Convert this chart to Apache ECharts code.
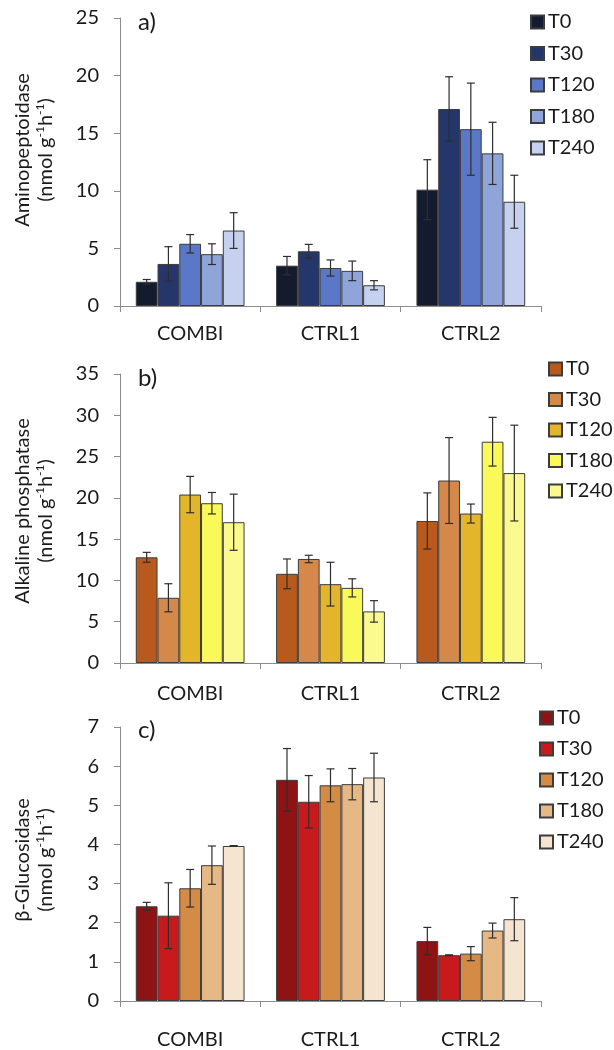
<!DOCTYPE html>
<html>
<head>
<meta charset="utf-8">
<script src="https://cdn.jsdelivr.net/npm/echarts@6/dist/echarts.min.js"></script>
<style>html,body{margin:0;padding:0;background:#fff;}#chart{width:614px;height:1050px;}</style>
</head>
<body>
<div id="chart"></div>
<script>
const categories = ['COMBI', 'CTRL1', 'CTRL2'];
const times = ['T0', 'T30', 'T120', 'T180', 'T240'];

// a) Aminopeptoidase: rows = times, columns = categories
const aminoMeans = [
  [2.1, 3.5, 10.1],
  [3.65, 4.75, 17.1],
  [5.4, 3.3, 15.35],
  [4.5, 3.05, 13.25],
  [6.55, 1.8, 9.05]
];
const aminoErr = [
  [0.2, 0.8, 2.6],
  [1.5, 0.6, 2.8],
  [0.8, 0.7, 4.0],
  [0.9, 0.85, 2.7],
  [1.55, 0.4, 2.3]
];
// b) Alkaline phosphatase
const alkMeans = [
  [12.8, 10.8, 17.2],
  [7.9, 12.6, 22.1],
  [20.4, 9.55, 18.1],
  [19.35, 9.1, 26.8],
  [17.05, 6.25, 23.0]
];
const alkErr = [
  [0.6, 1.8, 3.4],
  [1.7, 0.45, 5.2],
  [2.2, 2.65, 1.15],
  [1.3, 1.1, 2.95],
  [3.4, 1.3, 5.8]
];
// c) beta-Glucosidase
const gluMeans = [
  [2.42, 5.65, 1.53],
  [2.18, 5.09, 1.17],
  [2.88, 5.51, 1.21],
  [3.47, 5.54, 1.80],
  [3.96, 5.71, 2.09]
];
const gluErr = [
  [0.1, 0.8, 0.35],
  [0.84, 0.67, 0.01],
  [0.48, 0.42, 0.18],
  [0.49, 0.4, 0.19],
  [0.01, 0.62, 0.55]
];

const aminoColors = ['#151b2f', '#25366a', '#5b78c8', '#8fa5da', '#c5d1ee'];
const alkColors = ['#b85a1e', '#d4884a', '#e3b52a', '#f9f959', '#fbfa8f'];
const gluColors = ['#8e1315', '#c8191c', '#d48b45', '#e5b886', '#f4e4d0'];

const panels = [
  {key: 'a', means: aminoMeans, err: aminoErr, colors: aminoColors, max: 25, interval: 5,
   top: 18, height: 288, legendTop: 12, legendLeft: 530, legendGap: 29.5,
   label: 'a)', labelTop: 5, name1: 'Aminopeptoidase', nameY: 150, catMargin: 18},
  {key: 'b', means: alkMeans, err: alkErr, colors: alkColors, max: 35, interval: 5,
   top: 374, height: 289, legendTop: 359, legendLeft: 548, legendGap: 28.5,
   label: 'b)', labelTop: 361, name1: 'Alkaline phosphatase', nameY: 511, catMargin: 21},
  {key: 'c', means: gluMeans, err: gluErr, colors: gluColors, max: 7, interval: 1,
   top: 727, height: 280, legendTop: 708, legendLeft: 539, legendGap: 29,
   label: 'c)', labelTop: 713, name1: 'β-Glucosidase', nameY: 860, catMargin: 29}
];

const FONT = 'Lato';
const CAT_GAP = 0.225;

const grid = [], xAxis = [], yAxis = [], series = [], legend = [], title = [], graphic = [];

panels.forEach((p, pi) => {
  grid.push({left: 120, right: 73, top: p.top, height: p.height});
  xAxis.push({
    type: 'category', gridIndex: pi, data: categories,
    axisLine: {lineStyle: {color: '#8c8c8c', width: 1}},
    axisTick: {show: true, length: 6, lineStyle: {color: '#8c8c8c'}},
    axisLabel: {color: '#1a1a1a', fontFamily: FONT, fontSize: 20, margin: p.catMargin}
  });
  yAxis.push({
    type: 'value', gridIndex: pi, min: 0, max: p.max, interval: p.interval,
    splitLine: {show: false},
    axisLine: {show: true, lineStyle: {color: '#8c8c8c', width: 1}},
    axisTick: {show: true, length: 6, lineStyle: {color: '#8c8c8c'}},
    axisLabel: {color: '#1a1a1a', fontFamily: FONT, fontSize: 20, margin: 21}
  });
  const names = times.map(t => p.key + '|' + t);
  times.forEach((t, ti) => {
    series.push({
      name: p.key + '|' + t, type: 'bar', xAxisIndex: pi, yAxisIndex: pi,
      data: p.means[ti], barGap: '0%', barCategoryGap: (CAT_GAP * 100) + '%',
      itemStyle: {color: p.colors[ti], borderColor: '#3c3c3c', borderWidth: 1},
      emphasis: {disabled: true}, animation: false
    });
  });
  const errData = [];
  times.forEach((t, ti) => {
    categories.forEach((c, ci) => {
      errData.push([ci, ti, p.means[ti][ci] - p.err[ti][ci], p.means[ti][ci] + p.err[ti][ci]]);
    });
  });
  series.push({
    type: 'custom', xAxisIndex: pi, yAxisIndex: pi, data: errData, z: 10,
    encode: {x: 0, y: [2, 3]}, animation: false, silent: true,
    renderItem: function (params, api) {
      const ci = api.value(0), ti = api.value(1), lo = api.value(2), hi = api.value(3);
      const band = api.size([1, 0])[0];
      const bw = band * (1 - CAT_GAP) / times.length;
      const cx = api.coord([ci, 0])[0] + (ti - (times.length - 1) / 2) * bw;
      const yTop = api.coord([ci, hi])[1];
      const yBot = api.coord([ci, lo])[1];
      const cap = 4;
      const st = {stroke: '#2e2e2e', lineWidth: 1.2};
      return {type: 'group', children: [
        {type: 'line', shape: {x1: cx, y1: yTop, x2: cx, y2: yBot}, style: st},
        {type: 'line', shape: {x1: cx - cap, y1: yTop, x2: cx + cap, y2: yTop}, style: st},
        {type: 'line', shape: {x1: cx - cap, y1: yBot, x2: cx + cap, y2: yBot}, style: st}
      ]};
    }
  });
  legend.push({
    data: names, orient: 'vertical', left: p.legendLeft, top: p.legendTop,
    padding: 0, icon: 'rect', itemWidth: 13, itemHeight: 13, itemGap: p.legendGap - 18,
    selectedMode: false,
    formatter: n => n.split('|')[1],
    textStyle: {fontFamily: FONT, fontSize: 20, color: '#1a1a1a', lineHeight: 18,
      width: 24, overflow: 'none', padding: [0, 0, 0, -1]}
  });
  title.push({
    text: p.label, left: 133, top: p.labelTop,
    textStyle: {fontFamily: FONT, fontSize: 24, fontWeight: 'normal', color: '#1a1a1a'}
  });
  graphic.push({
    type: 'text', x: 34, y: p.nameY, rotation: Math.PI / 2,
    style: {
      text: '{n|' + p.name1 + '}\n{n|(nmol g}{s|-1}{n|h}{s|-1}{n|)}',
      align: 'center', verticalAlign: 'middle', fill: '#1a1a1a',
      rich: {
        n: {fontFamily: FONT, fontSize: 20, lineHeight: 23, fill: '#1a1a1a'},
        s: {fontFamily: FONT, fontSize: 12, lineHeight: 23, verticalAlign: 'top', fill: '#1a1a1a'}
      }
    }
  });
});

const chart = echarts.init(document.getElementById('chart'), null, {renderer: 'canvas'});
chart.setOption({
  animation: false,
  backgroundColor: '#ffffff',
  textStyle: {fontFamily: FONT},
  title, grid, xAxis, yAxis, legend, graphic, series
});
</script>
</body>
</html>
